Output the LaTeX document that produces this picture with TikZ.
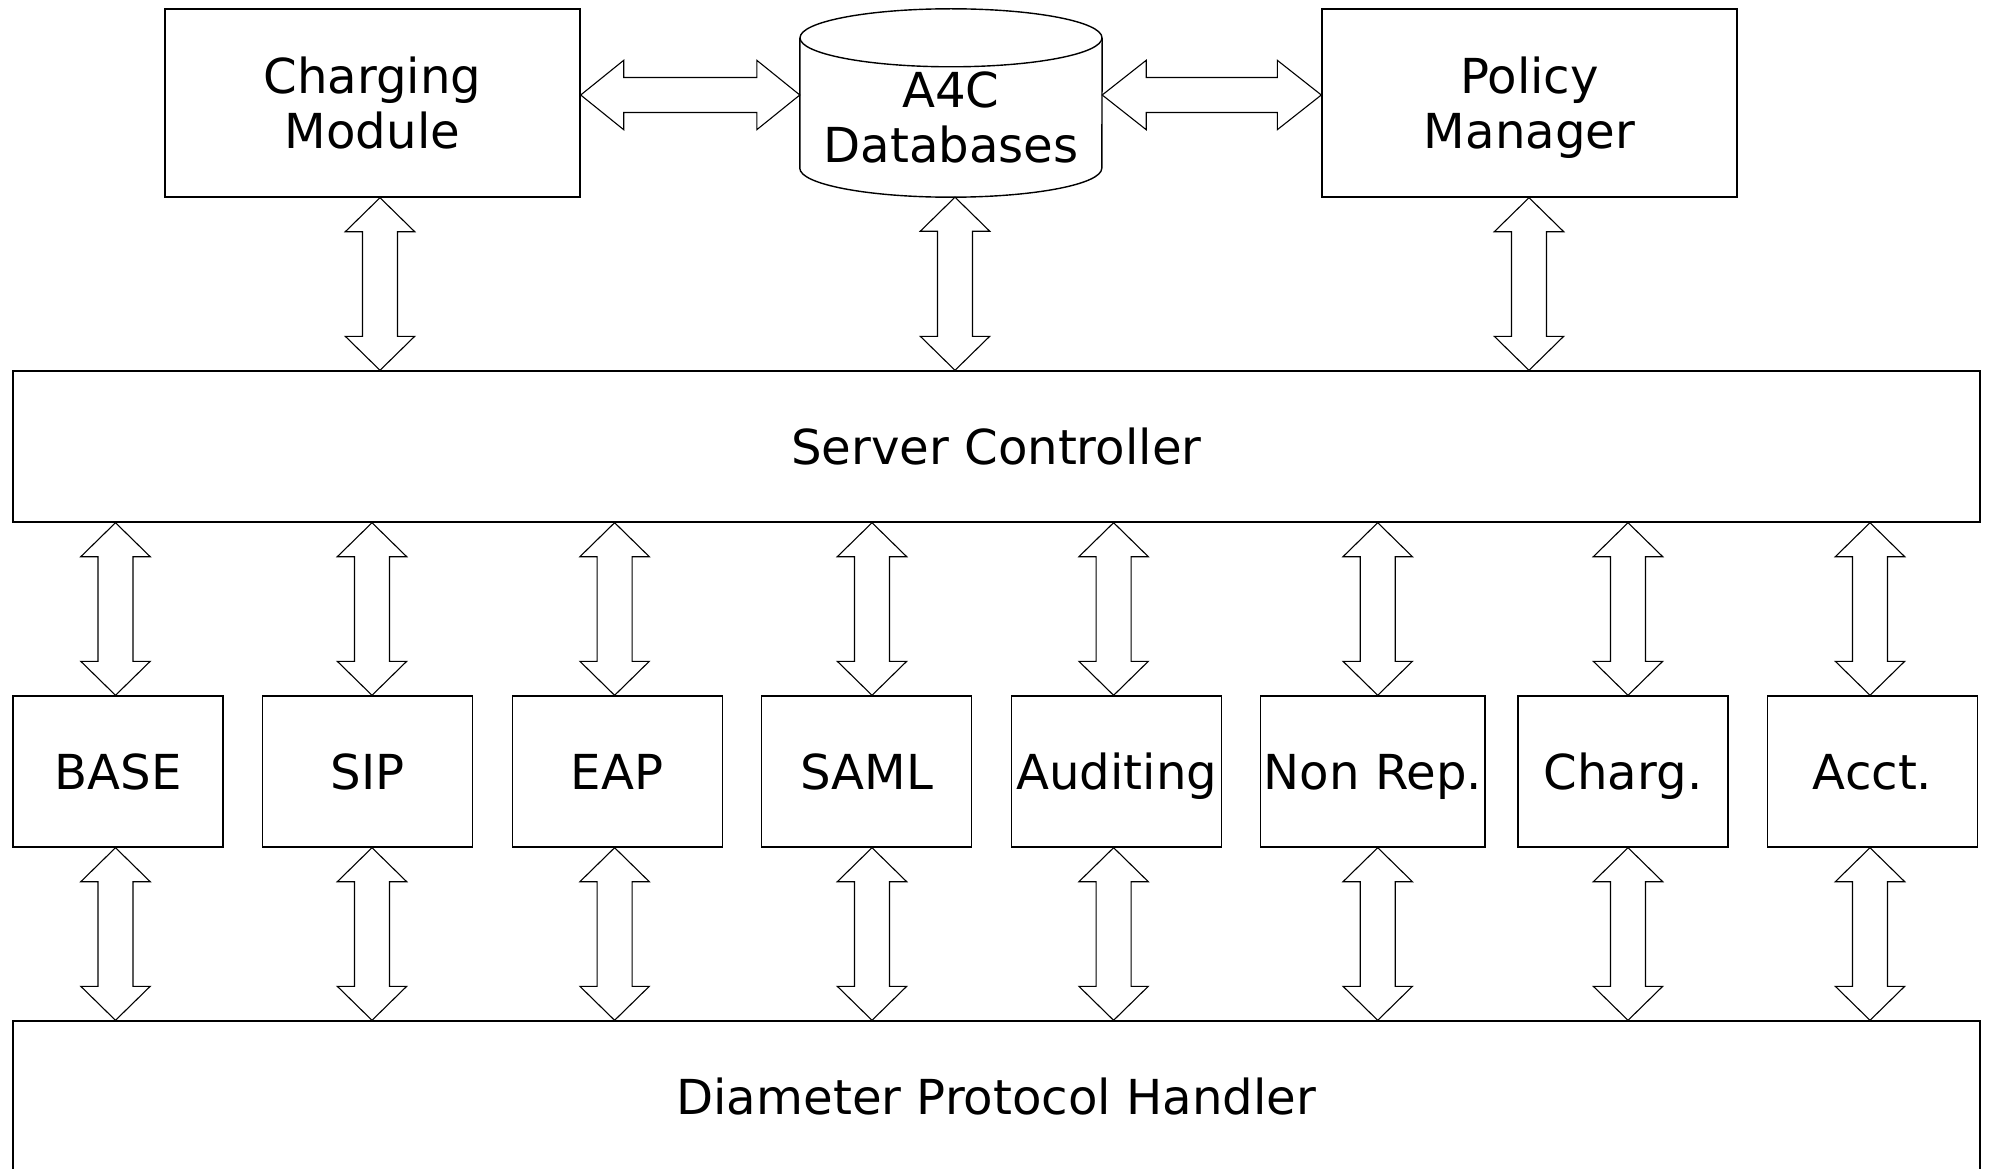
\documentclass[tikz,border=0pt]{standalone}
\usepackage{fontspec}
\setmainfont{DejaVu Sans}
\usetikzlibrary{calc}

\newcommand\labelfont{\fontsize{48.2}{55}\selectfont}

\tikzset{
  box/.style={draw, line width=1.4pt, rectangle, inner sep=0pt, align=center, font=\labelfont},
  topbox/.style={box, minimum width=415pt, minimum height=188pt, text depth=0pt},
  module/.style={box, minimum width=210pt, minimum height=151pt, text height=40pt, text depth=5pt},
  layer/.style={box, minimum width=1967pt, minimum height=151pt, text height=40pt, text depth=5pt},
  outline/.style={draw, line width=1.4pt},
  fat/.style={draw, line width=1.1pt, fill=white, line join=miter},
}

% vertical double-headed block arrow: #1 upper tip, #2 lower tip, #3 head length
\newcommand\vfat[3]{%
  \draw[fat] let \p1=(#1), \p2=(#2) in
    (\x1,\y1) -- (\x1+34.7pt,\y1-#3pt) -- (\x1+17.5pt,\y1-#3pt)
    -- (\x1+17.5pt,\y2+#3pt) -- (\x1+34.7pt,\y2+#3pt) -- (\x1,\y2)
    -- (\x1-34.7pt,\y2+#3pt) -- (\x1-17.5pt,\y2+#3pt)
    -- (\x1-17.5pt,\y1-#3pt) -- (\x1-34.7pt,\y1-#3pt) -- cycle;}

% horizontal double-headed block arrow: #1 left tip, #2 right tip, #3 head length
\newcommand\hfat[3]{%
  \draw[fat] let \p1=(#1), \p2=(#2) in
    (\x1,\y1) -- (\x1+#3pt,\y1+34.7pt) -- (\x1+#3pt,\y1+17.5pt)
    -- (\x2-#3pt,\y1+17.5pt) -- (\x2-#3pt,\y1+34.7pt) -- (\x2,\y1)
    -- (\x2-#3pt,\y1-34.7pt) -- (\x2-#3pt,\y1-17.5pt)
    -- (\x1+#3pt,\y1-17.5pt) -- (\x1+#3pt,\y1-34.7pt) -- cycle;}

\begin{document}
\begin{tikzpicture}[x=1pt, y=-1pt]
\useasboundingbox[fill=white] (0,0) rectangle (1991,1169);
\clip (0,0) rectangle (1991,1169);

% top row
\node[topbox] (cm) at (372.5,103) {Charging\\Module};
\node[topbox] (pm) at (1529.5,103) {Policy\\Manager};
\node[inner sep=0pt, minimum width=302pt, minimum height=188pt] (db) at (951,103) {};
\draw[outline] ($(db.north)+(0,29)$) ellipse [x radius=151pt, y radius=29pt];
\draw[outline] ($(db.north west)+(0,29)$) -- ($(db.south west)+(0,-29)$)
  arc[start angle=180, end angle=360, x radius=151pt, y radius=29pt]
  -- ($(db.north east)+(0,29)$);
\node[font=\labelfont, align=center, inner sep=0pt] (dbtext) at (951,117.5) {A4C\\Databases};

% layers
\node[layer] (sc) at (996.3,446.5) {Server Controller};
\node[layer] (dph) at (996.3,1096.5) {Diameter Protocol Handler};

% protocol modules
\node[module] (base) at (118.1,771.5) {BASE};
\node[module] (sip) at (367.7,771.5) {SIP};
\node[module] (eap) at (617.2,771.5) {EAP};
\node[module] (saml) at (866.5,771.5) {SAML};
\node[module] (aud) at (1116.7,771.5) {Auditing};
\node[module, minimum width=224.3pt] (nonrep) at (1372.9,771.5) {Non Rep.};
\node[module] (charg) at (1623,771.5) {Charg.};
\node[module] (acct) at (1872.5,771.5) {Acct.};

% connectors between the top row
\coordinate (hrow) at (0,95);
\hfat{cm.east |- hrow}{db.west |- hrow}{43}
\hfat{db.east |- hrow}{pm.west |- hrow}{44}

% connectors from the top row to the server controller
\coordinate (ax-cm) at (380,0);
\coordinate (ax-db) at (955,0);
\coordinate (ax-pm) at (1529,0);
\vfat{cm.south -| ax-cm}{sc.north -| ax-cm}{34}
\vfat{db.south -| ax-db}{sc.north -| ax-db}{34}
\vfat{pm.south -| ax-pm}{sc.north -| ax-pm}{34}

% connectors through the protocol modules
\foreach \m/\ax in {base/115.5, sip/372, eap/614.6, saml/872, aud/1113.6, nonrep/1377.7, charg/1628, acct/1870} {
  \coordinate (ax-\m) at (\ax,0);
  \vfat{sc.south -| ax-\m}{\m.north -| ax-\m}{34}
  \vfat{\m.south -| ax-\m}{dph.north -| ax-\m}{34}
}
\end{tikzpicture}
\end{document}
